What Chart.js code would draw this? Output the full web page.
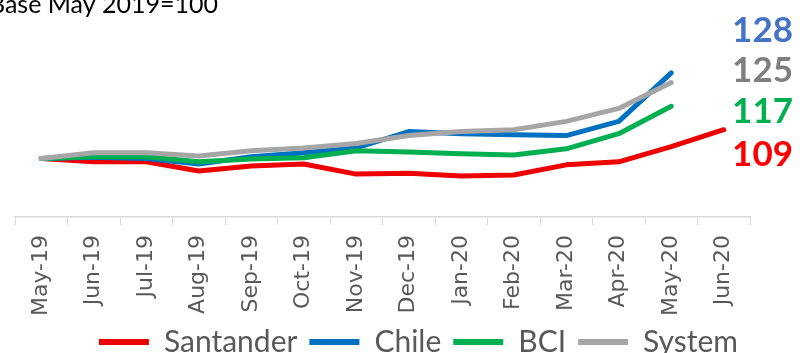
<!DOCTYPE html>
<html>
<head>
<meta charset="utf-8">
<script src="https://cdn.jsdelivr.net/npm/chart.js@4.4.1/dist/chart.umd.min.js"></script>
<style>
  html, body { margin: 0; padding: 0; background: #fff; }
  #wrap { width: 800px; height: 353px; position: relative; }
</style>
</head>
<body>
<div id="wrap"><canvas id="grafico"></canvas></div>
<script>
// Datos (indice base May 2019 = 100)
const meses = ['May-19', 'Jun-19', 'Jul-19', 'Aug-19', 'Sep-19', 'Oct-19', 'Nov-19',
               'Dec-19', 'Jan-20', 'Feb-20', 'Mar-20', 'Apr-20', 'May-20', 'Jun-20'];
const santander = [100, 98.9, 98.9, 95.9, 97.5, 98.2, 94.9, 95.2, 94.3, 94.6, 97.9, 98.9, 103.8, 109.3];
const chile     = [100, 100.4, 100, 98.2, 100.5, 101.8, 103.4, 108.7, 108.0, 107.7, 107.4, 112.0, 127.7, null];
const bci       = [100, 100.5, 100.5, 98.9, 99.8, 100.2, 102.5, 102.1, 101.5, 101.1, 103.1, 108.0, 116.9, null];
const sistema   = [100, 101.8, 101.8, 100.8, 102.5, 103.4, 104.8, 107.4, 108.7, 109.3, 112.0, 116.2, 124.6, null];
const etiquetasFinales = ['128', '125', '117', '109'];

const colores = { santander: '#EE0000', chile: '#0070C0', bci: '#00B050', sistema: '#A6A6A6' };
const fuente = 'Lato, "Open Sans", sans-serif';

// Titulo y valores finales a la derecha
const textosExtra = {
    id: 'textosExtra',
    afterDraw(chart) {
        const ctx = chart.ctx;
        ctx.save();
        ctx.fillStyle = '#000';
        ctx.font = '25px ' + fuente;
        ctx.textAlign = 'right';
        ctx.textBaseline = 'alphabetic';
        ctx.fillText('Base May 2019=100', 218, 13);

        const colorTxt = ['#4472C4', '#7F7F7F', '#00B050', '#FF0000'];
        const yTxt = [31, 71, 112, 155];
        ctx.font = 'bold 35px ' + fuente;
        ctx.textBaseline = 'middle';
        etiquetasFinales.forEach((t, i) => {
            ctx.fillStyle = colorTxt[i];
            ctx.fillText(t, 793, yTxt[i]);
        });
        ctx.restore();
    }
};

const ctx = document.getElementById('grafico').getContext('2d');
new Chart(ctx, {
    type: 'line',
    data: {
        labels: meses,
        datasets: [
            { label: 'Santander', data: santander, borderColor: colores.santander, backgroundColor: colores.santander, order: 3 },
            { label: 'Chile', data: chile, borderColor: colores.chile, backgroundColor: colores.chile, order: 2 },
            { label: 'BCI', data: bci, borderColor: colores.bci, backgroundColor: colores.bci, order: 1 },
            { label: 'System', data: sistema, borderColor: colores.sistema, backgroundColor: colores.sistema, order: 0 }
        ]
    },
    options: {
        responsive: true,
        maintainAspectRatio: false,
        animation: false,
        devicePixelRatio: 1,
        elements: {
            line: { borderWidth: 5, tension: 0, borderCapStyle: 'round', borderJoinStyle: 'round' },
            point: { radius: 0 }
        },
        layout: { padding: { left: 15, right: 50, top: 35, bottom: -14 } },
        scales: {
            x: {
                offset: true,
                afterFit: (scale) => { scale.height = 98; },
                grid: { display: true, drawOnChartArea: false, drawTicks: true, tickLength: 8, color: '#D9D9D9', offset: true },
                border: { display: true, color: '#D9D9D9', width: 1.5 },
                ticks: {
                    minRotation: 90, maxRotation: 90, autoSkip: false, padding: 10,
                    color: '#595959', font: { family: '"DejaVu Sans"', size: 22 }
                }
            },
            y: { display: false, min: 81, max: 140 }
        },
        plugins: {
            legend: {
                position: 'bottom',
                align: 'end',
                labels: {
                    sort: (a, b) => a.datasetIndex - b.datasetIndex,
                    generateLabels: (chart) => Chart.defaults.plugins.legend.labels.generateLabels(chart)
                        .map(l => Object.assign(l, { lineWidth: 0 })),
                    boxWidth: 50, boxHeight: 6, padding: 12,
                    color: '#595959', font: { family: fuente, size: 30 }
                }
            },
            tooltip: { enabled: false }
        }
    },
    plugins: [textosExtra]
});
</script>
</body>
</html>
